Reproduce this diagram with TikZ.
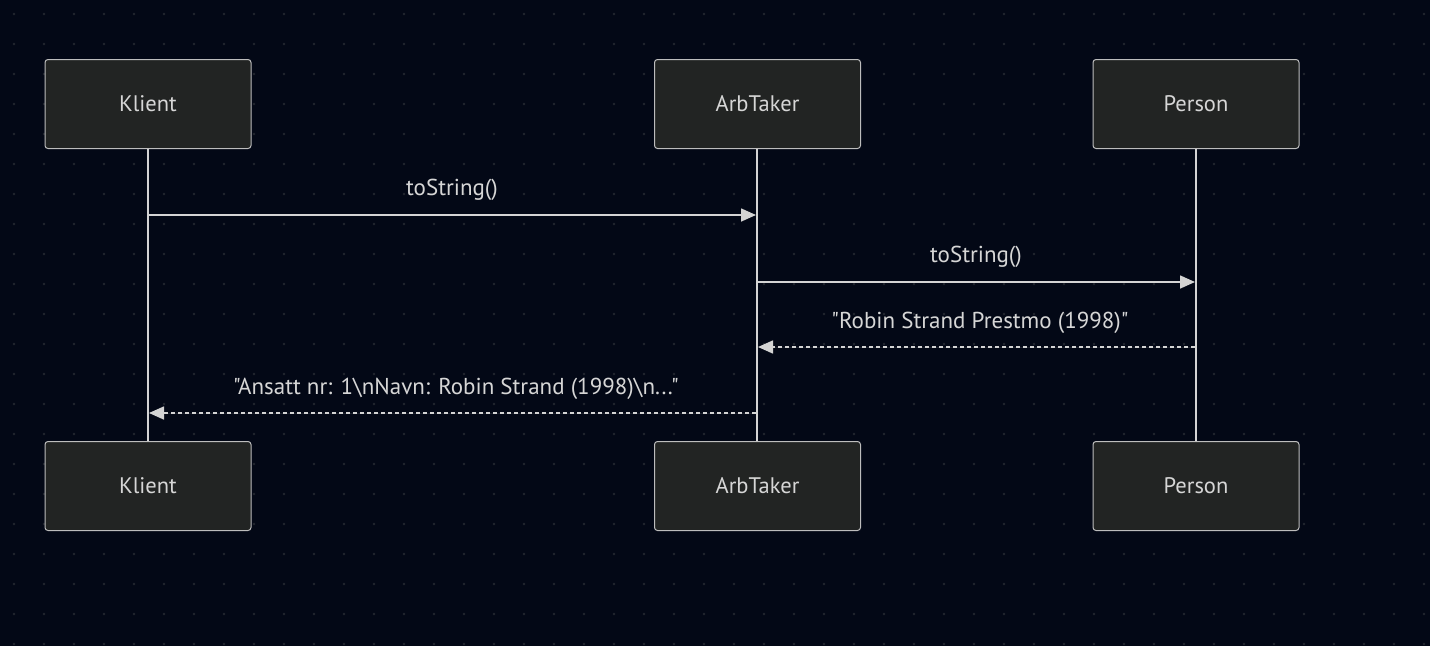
\documentclass[tikz,border=0pt]{standalone}
\usepackage{fontspec}
\setmainfont{PT Sans}[Ligatures=TeXOff]
\usetikzlibrary{arrows.meta}
\definecolor{bg}{HTML}{030816}
\definecolor{dotc}{HTML}{22262F}
\definecolor{boxfill}{HTML}{222423}
\definecolor{boxline}{HTML}{BDBDBD}
\definecolor{linec}{HTML}{D4D4D4}
\definecolor{txt}{HTML}{D6D6D6}
\tikzset{
  actor/.style={draw=boxline, line width=1pt, fill=boxfill, rounded corners=3pt,
    minimum width=206pt, minimum height=89pt, inner sep=0pt, text=txt,
    font=\fontsize{22.5}{26}\selectfont},
  lifeline/.style={draw=linec, line width=2pt},
  msg/.style={draw=linec, line width=1.6pt, -{Triangle[length=15pt,width=13pt]}, fill=linec},
  reply/.style={msg, dash pattern=on 4pt off 3pt},
  lbl/.style={text=txt, font=\fontsize{23}{27}\selectfont, inner sep=0pt}
}
\begin{document}
\begin{tikzpicture}[x=1pt,y=-1pt]
\fill[bg] (0,0) rectangle (1430,646);
\useasboundingbox (0,0) rectangle (1430,646);
\foreach \i in {0,...,47}{
  \foreach \j in {0,...,21}{
    \fill[dotc] (14+30*\i,14+30*\j) circle (1.3pt);
  }
}
% lifelines first
\coordinate (kt) at (148,148); \coordinate (kb) at (148,441);
\coordinate (at) at (757,148); \coordinate (ab) at (757,441);
\coordinate (pt) at (1196,148); \coordinate (pb) at (1196,441);
\draw[lifeline] (kt) -- (kb);
\draw[lifeline] (at) -- (ab);
\draw[lifeline] (pt) -- (pb);
% actors
\node[actor] (k1) at (148,104) {Klient};
\node[actor] (a1) at (757.5,104) {ArbTaker};
\node[actor] (p1) at (1196,104) {Person};
\node[actor] (k2) at (148,486) {Klient};
\node[actor] (a2) at (757.5,486) {ArbTaker};
\node[actor] (p2) at (1196,486) {Person};
% messages
\coordinate (m1s) at (149,215); \coordinate (m1e) at (756,215);
\coordinate (m2s) at (758,282); \coordinate (m2e) at (1195,282);
\coordinate (m3s) at (1195,347); \coordinate (m3e) at (758,347);
\coordinate (m4s) at (756,413); \coordinate (m4e) at (149,413);
\draw[msg] (m1s) -- (m1e);
\draw[msg] (m2s) -- (m2e);
\draw[reply] (m3s) -- (m3e);
\draw[reply] (m4s) -- (m4e);
\node[lbl] (l1) at (452,190) {toString()};
\node[lbl] (l2) at (976,257) {toString()};
\node[lbl] (l3) at (980,323) {"Robin Strand Prestmo (1998)"};
\node[lbl] (l4) at (456,389) {"Ansatt nr: 1\textbackslash nNavn: Robin Strand (1998)\textbackslash n..."};
\end{tikzpicture}
\end{document}
